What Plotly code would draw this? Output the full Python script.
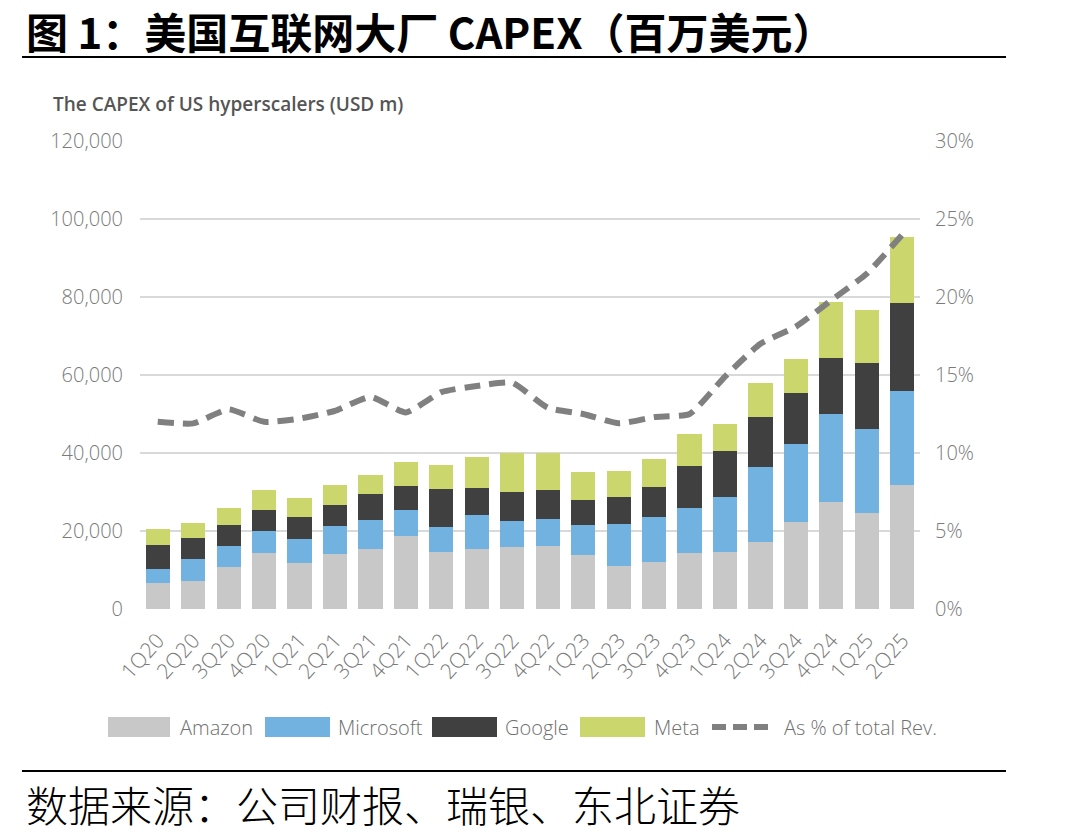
import plotly.graph_objects as go

quarters = ["1Q20","2Q20","3Q20","4Q20","1Q21","2Q21","3Q21","4Q21","1Q22","2Q22","3Q22",
            "4Q22","1Q23","2Q23","3Q23","4Q23","1Q24","2Q24","3Q24","4Q24","1Q25","2Q25"]
# cumulative tops (USD m)
top_amazon    = [6600,7200,10800,14400,11700,14000,15400,18700,14600,15400,15800,
                 16200,13800,11100,12100,14300,14500,17300,22200,27500,24700,31800]
top_microsoft = [10300,12900,16200,20000,17900,21300,22800,25400,20900,24200,22600,
                 23200,21600,21800,23500,25800,28600,36300,42300,50000,46100,56000]
top_google    = [16300,18300,21500,25300,23700,26700,29500,31600,30700,30900,29900,
                 30500,27900,28800,31400,36700,40600,49300,55300,64400,63200,78400]
top_meta      = [20400,22100,26000,30600,28500,31900,34400,37700,36800,39100,39900,
                 39900,35200,35400,38500,44900,47400,58000,64000,78800,76700,95500]
pct_rev = [0.120,0.119,0.128,0.120,0.122,0.127,0.136,0.126,0.139,0.143,0.145,
           0.129,0.125,0.119,0.123,0.125,0.149,0.170,0.181,0.198,0.215,0.240]

amazon = top_amazon
microsoft = [b - a for a, b in zip(top_amazon, top_microsoft)]
google = [b - a for a, b in zip(top_microsoft, top_google)]
meta = [b - a for a, b in zip(top_google, top_meta)]

series_names = ["Amazon", "Microsoft", "Google", "Meta", "As % of total Rev."]
colors = ["#c8c8c8", "#72b2e0", "#404040", "#cbd66c", "#808080"]

y_ticks = [0, 20000, 40000, 60000, 80000, 100000, 120000]
y2_ticks = [0, 0.05, 0.10, 0.15, 0.20, 0.25, 0.30]

W, H = 1090, 838
L, R, T, B = 140, 170, 141, 229
PW, PH = W - L - R, H - T - B

def px(x):
    return (x - L) / PW

def py(y):
    return (H - B - y) / PH

fig = go.Figure()
for name, vals, col in zip(series_names[:4], [amazon, microsoft, google, meta], colors[:4]):
    fig.add_trace(go.Bar(x=quarters, y=vals, name=name, marker_color=col,
                         marker_line_width=0, showlegend=False))
fig.add_trace(go.Scatter(x=quarters, y=pct_rev, name=series_names[4], yaxis="y2",
                         mode="lines", line=dict(color=colors[4], width=6, dash="16px,9px",
                                                 shape="spline", smoothing=0.5),
                         showlegend=False))

tick_font = dict(family="Open Sans", size=20, color="#7a7a7a", weight=300)
fig.update_layout(
    width=W, height=H, margin=dict(l=L, r=R, t=T, b=B),
    paper_bgcolor="white", plot_bgcolor="white",
    barmode="stack", bargap=0.32,
    xaxis=dict(type="category", tickangle=-48,
               tickfont=dict(family="Open Sans", size=21, color="#7a7a7a", weight=300),
               showgrid=False, showline=False, ticks="", ticklabelstandoff=14),
    yaxis=dict(range=[0, 120000], tickvals=y_ticks, tickformat=",", tickfont=tick_font,
               gridcolor="#d9d9d9", gridwidth=1.5, zeroline=False, showline=False, ticks="",
               ticklabelstandoff=16),
    yaxis2=dict(range=[0, 0.30], tickvals=y2_ticks, tickformat=".0%", tickfont=tick_font,
                overlaying="y", side="right", showgrid=False, zeroline=False, showline=False,
                ticks="", ticklabelstandoff=14),
)

ann = []
shapes = []
ann.append(dict(text="<b>图 1：美国互联网大厂 CAPEX（百万美元）</b>", x=px(24), y=py(31),
                xref="paper", yref="paper", xanchor="left", yanchor="middle", showarrow=False,
                font=dict(family="Noto Sans CJK SC", size=42, color="#000000")))
shapes.append(dict(type="line", xref="paper", yref="paper", x0=px(22), x1=px(1006), y0=py(57), y1=py(57),
                   line=dict(color="#000000", width=2)))
ann.append(dict(text="The CAPEX of US hyperscalers (USD m)", x=px(51), y=py(104),
                xref="paper", yref="paper", xanchor="left", yanchor="middle", showarrow=False,
                font=dict(family="Open Sans", size=19, color="#555555", weight=600)))
shapes.append(dict(type="line", xref="paper", yref="paper", x0=px(22), x1=px(1006), y0=py(771), y1=py(771),
                   line=dict(color="#000000", width=2)))
ann.append(dict(text="数据来源：公司财报、瑞银、东北证券", x=px(24), y=py(803),
                xref="paper", yref="paper", xanchor="left", yanchor="middle", showarrow=False,
                font=dict(family="Noto Sans CJK SC", size=42, color="#000000", weight=300)))

# legend (manual)
leg_y = 727
items = [(108, 170, 178), (265, 330, 336), (432, 497, 503), (580, 645, 652)]
for (x0, x1, tx), name, col in zip(items, series_names[:4], colors[:4]):
    shapes.append(dict(type="rect", xref="paper", yref="paper", x0=px(x0), x1=px(x1),
                       y0=py(leg_y - 10), y1=py(leg_y + 10), fillcolor=col, line=dict(width=0)))
    ann.append(dict(text=name, x=px(tx), y=py(leg_y), xref="paper", yref="paper",
                    xanchor="left", yanchor="middle", showarrow=False,
                    font=dict(family="Open Sans", size=20, color="#707070", weight=300)))
shapes.append(dict(type="line", xref="paper", yref="paper", x0=px(712), x1=px(768),
                   y0=py(leg_y), y1=py(leg_y), line=dict(color=colors[4], width=6, dash="14px,7px")))
ann.append(dict(text=series_names[4], x=px(782), y=py(leg_y), xref="paper", yref="paper",
                xanchor="left", yanchor="middle", showarrow=False,
                font=dict(family="Open Sans", size=20, color="#707070", weight=300)))

fig.update_layout(annotations=ann, shapes=shapes)
fig.write_html("out.html")
